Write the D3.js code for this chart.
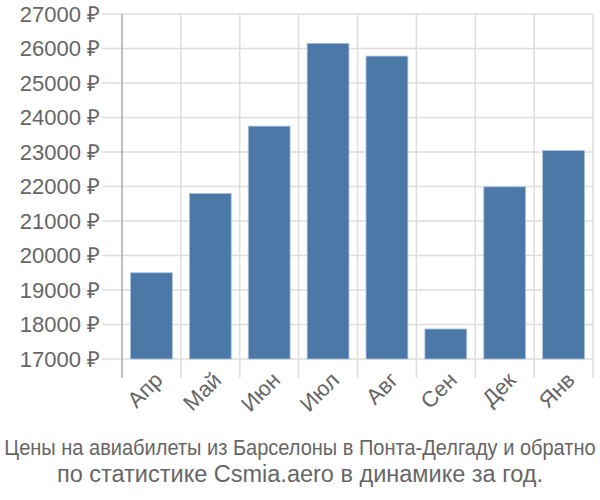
<!DOCTYPE html>
<html><head><meta charset="utf-8">
<script src="https://cdn.jsdelivr.net/npm/d3@7"></script>
<style>body{margin:0;background:#fff}text{font-family:"Liberation Sans",Arial,sans-serif}</style>
</head><body><svg id="c" width="600" height="500"></svg>
<script>
const categories = ["Апр","Май","Июн","Июл","Авг","Сен","Дек","Янв"];
const values = [19500, 21800, 23750, 26150, 25780, 17870, 21990, 23040];
const yTicks = [17000,18000,19000,20000,21000,22000,23000,24000,25000,26000,27000];
const title1 = "Цены на авиабилеты из Барселоны в Понта-Делгаду и обратно";
const title2 = "по статистике Csmia.aero в динамике за год.";

const svg = d3.select("#c");
const x = d3.scaleBand().domain(categories).range([122, 593]).paddingInner(0.29).paddingOuter(0.145);
const y = d3.scaleLinear().domain([17000, 27000]).range([359, 14]);

svg.append("g").selectAll("line").data(yTicks).join("line")
  .attr("x1", 102).attr("x2", 593).attr("y1", d => y(d)).attr("y2", d => y(d))
  .attr("stroke", "#ddd").attr("stroke-width", 1.5);
const bounds = categories.map(c => x(c) - x.step()*x.paddingInner()/2).concat([593]);
svg.append("g").selectAll("line").data(bounds).join("line")
  .attr("x1", d => d).attr("x2", d => d).attr("y1", 14).attr("y2", 378)
  .attr("stroke", (d,i) => i === 0 ? "#aaa" : "#ddd").attr("stroke-width", 1.5);

svg.append("g").selectAll("rect").data(values).join("rect")
  .attr("x", (d,i) => x(categories[i])).attr("width", x.bandwidth())
  .attr("y", d => y(d)).attr("height", d => y(17000) - y(d))
  .attr("fill", "#4c78a8").attr("stroke", "#a9c0dc").attr("stroke-width", 0.8);

svg.append("g").selectAll("text").data(yTicks).join("text")
  .attr("x", 100).attr("y", d => y(d)).attr("dy", "0.36em")
  .attr("text-anchor", "end").attr("fill", "#666").attr("font-size", 22)
  .text(d => d + " ₽");

svg.append("g").selectAll("text").data(categories).join("text")
  .attr("transform", d => `translate(${x(d) + x.bandwidth()/2 + 7},${376}) rotate(-45)`)
  .attr("text-anchor", "end").attr("fill", "#666").attr("font-size", 22)
  .attr("dy", "0.35em")
  .text(d => d);

const t1 = svg.append("text").attr("x", 0).attr("y", 0).attr("text-anchor", "middle")
  .attr("fill", "#666").attr("font-size", 22).text(title1);
const w1 = t1.node().getComputedTextLength();
t1.attr("transform", `translate(300,455) scale(${Math.min(1, 592 / w1)},1)`);
svg.append("text").attr("x", 300).attr("y", 482).attr("text-anchor", "middle")
  .attr("fill", "#666").attr("font-size", 23.5).text(title2);
</script></body></html>
